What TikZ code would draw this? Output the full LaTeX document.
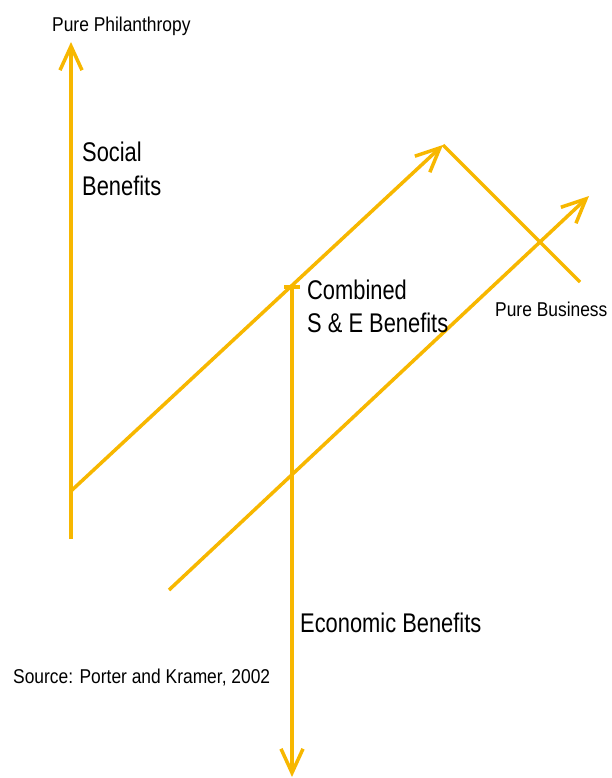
\documentclass[tikz,border=0pt]{standalone}
\usepackage{fontspec}
\setmainfont[FakeStretch=0.81]{Liberation Sans}
\newfontfamily\notefont[FakeStretch=0.87]{Liberation Sans}
\usepackage{xcolor}
\usepackage{tikz}
\usetikzlibrary{arrows.meta, positioning, calc}

\definecolor{axisyellow}{RGB}{247,183,0}

\begin{document}
\begin{tikzpicture}[
    x=1pt, y=-1pt,
    axis/.style={draw=axisyellow, line width=3.5pt},
    arrow/.style={axis, -{Straight Barb[length=24pt, width=22pt, line width=3.5pt]}},
    smalllabel/.style={font=\notefont\fontsize{20}{24}\selectfont, anchor=base west, inner sep=0pt},
    biglabel/.style={font=\fontsize{27}{33}\selectfont, align=left, anchor=base west, inner sep=0pt}
]
    \useasboundingbox (0,0) rectangle (612,778);

    % --- Coordinates ---
    \coordinate (phil_base) at (71,539);
    \coordinate (phil_top) at (71,42);
    \coordinate (soc_start) at (71,491);
    \coordinate (peak) at (443,145);
    \coordinate (bus_end) at (580,282);
    \coordinate (eco_start) at (169,590);
    \coordinate (eco_top) at (589,196);
    \coordinate (comb_top) at (292,285);
    \coordinate (comb_bottom) at (292,777);

    % --- Axes ---
    % Social axis
    \draw[arrow] (phil_base) -- (phil_top);

    % Diagonals
    \draw[arrow] (soc_start) -- (peak);
    \draw[axis] (peak) -- (bus_end);
    \draw[arrow] (eco_start) -- (eco_top);

    % Combined axis
    \draw[axis, {Bar[width=16pt, line width=3.5pt]}-{Straight Barb[length=24pt, width=22pt, line width=3.5pt]}] (comb_top) -- (comb_bottom);

    % --- Labels ---
    % multi-line labels sit on the baseline of their last line
    \node[smalllabel] (l_phil) at (52,32) {Pure Philanthropy};
    \node[biglabel] (l_social) at (82,195) {Social\\Benefits};
    \node[biglabel] (l_comb) at (307,332) {Combined\\S \& E Benefits};
    \node[smalllabel] (l_bus) at (495,316) {Pure Business};
    \node[biglabel] (l_eco) at (300,632) {Economic Benefits};
    \node[smalllabel] (l_src) at (13,683) {Source: Porter and Kramer, 2002};

\end{tikzpicture}
\end{document}
